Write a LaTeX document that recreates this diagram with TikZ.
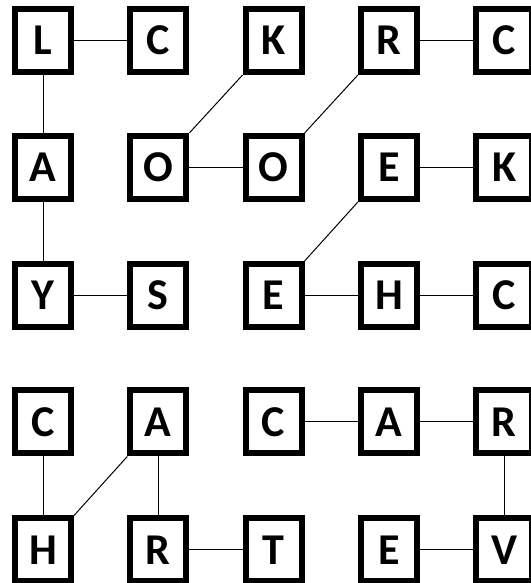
\documentclass[tikz,border=0pt]{standalone}
\usepackage{fontspec}
\setmainfont{Carlito}
\usetikzlibrary{positioning}
\begin{document}
\begin{tikzpicture}[x=1pt, y=1pt,
  tile/.style={draw, line width=6pt, minimum width=56pt, minimum height=63pt, inner sep=0pt, font=\fontsize{44}{48}\selectfont\bfseries},
  link/.style={line width=1pt}]
\useasboundingbox[fill=white] (0,0) rectangle (530,583);
\foreach \r/\y/\letters in {a/542.5/{L,C,K,R,C}, b/415.5/{A,O,O,E,K}, c/287.5/{Y,S,E,H,C}, d/161/{C,A,C,A,R}, e/33/{H,R,T,E,V}}
  \foreach \lbl [count=\i] in \letters
    \node[tile] (\r\i) at ({43+115.3*(\i-1)},\y) {\lbl};
% first group
\draw[link] (a1) -- (a2);
\draw[link] (a4) -- (a5);
\draw[link] (a1) -- (b1);
\draw[link] (a3.south west) -- (b2.north east);
\draw[link] (a4.south west) -- (b3.north east);
\draw[link] (b2) -- (b3);
\draw[link] (b4) -- (b5);
\draw[link] (b1) -- (c1);
\draw[link] (b4.south west) -- (c3.north east);
\draw[link] (c1) -- (c2);
\draw[link] (c3) -- (c4);
\draw[link] (c4) -- (c5);
% second group
\draw[link] (d1) -- (e1);
\draw[link] (d2.south west) -- (e1.north east);
\draw[link] (d2) -- (e2);
\draw[link] (d3) -- (d4);
\draw[link] (d4) -- (d5);
\draw[link] (d5) -- (e5);
\draw[link] (e2) -- (e3);
\draw[link] (e4) -- (e5);
\end{tikzpicture}
\end{document}
